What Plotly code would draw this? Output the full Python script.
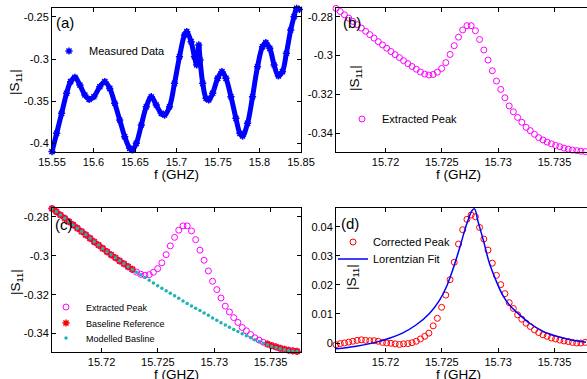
import plotly.graph_objects as go

# ---------------- data ----------------
# (a) measured data
a_f = [15.5500, 15.5556, 15.5616, 15.5676, 15.5724, 15.5776, 15.5836, 15.5896, 15.5948, 15.6004,
       15.6076, 15.6136, 15.6196, 15.6256, 15.6316, 15.6376, 15.6436, 15.6468, 15.6516, 15.6576,
       15.6636, 15.6696, 15.6756, 15.6816, 15.6856, 15.6916, 15.6976, 15.7036, 15.7096, 15.7124,
       15.7176, 15.7216, 15.7244, 15.7268, 15.7284, 15.7316, 15.7356, 15.7388, 15.7436, 15.7496,
       15.7548, 15.7596, 15.7656, 15.7716, 15.7764, 15.7796, 15.7856, 15.7916, 15.7976, 15.8036,
       15.8076, 15.8124, 15.8176, 15.8228, 15.8276, 15.8324, 15.8376, 15.8416, 15.8448, 15.8480]
a_s = [-0.4102, -0.3885, -0.3647, -0.3408, -0.3270, -0.3218, -0.3310, -0.3429, -0.3480, -0.3449,
       -0.3330, -0.3270, -0.3350, -0.3527, -0.3726, -0.3925, -0.4063, -0.4083, -0.4004, -0.3786,
       -0.3568, -0.3449, -0.3548, -0.3647, -0.3667, -0.3568, -0.3290, -0.2973, -0.2714, -0.2675,
       -0.2794, -0.2973, -0.3071, -0.2833, -0.3012, -0.3290, -0.3468, -0.3488, -0.3408, -0.3230,
       -0.3151, -0.3230, -0.3449, -0.3706, -0.3885, -0.3917, -0.3766, -0.3449, -0.3092, -0.2854,
       -0.2806, -0.2873, -0.3071, -0.3202, -0.3151, -0.2932, -0.2655, -0.2496, -0.2397, -0.2410]

# (b)/(c) extracted peak frequencies and values
p_f = [15.71560, 15.71598, 15.71635, 15.71673, 15.71710, 15.71748, 15.71785, 15.71823, 15.71860, 15.71898,
       15.71935, 15.71973, 15.72010, 15.72048, 15.72085, 15.72123, 15.72160, 15.72198, 15.72235, 15.72273,
       15.72310, 15.72348, 15.72385, 15.72423, 15.72460, 15.72498, 15.72535, 15.72573, 15.72610, 15.72648,
       15.72685, 15.72723, 15.72760, 15.72798, 15.72835, 15.72873, 15.72910, 15.72948, 15.72985, 15.73023,
       15.73060, 15.73098, 15.73135, 15.73173, 15.73210, 15.73248, 15.73285, 15.73323, 15.73360, 15.73398,
       15.73435, 15.73473, 15.73510, 15.73548, 15.73585, 15.73623, 15.73660, 15.73698, 15.73735, 15.73773]
p_s = [-0.2757, -0.2773, -0.2790, -0.2807, -0.2824, -0.2841, -0.2858, -0.2875, -0.2892, -0.2910,
       -0.2928, -0.2945, -0.2962, -0.2979, -0.2995, -0.3010, -0.3026, -0.3041, -0.3056, -0.3070,
       -0.3084, -0.3095, -0.3100, -0.3097, -0.3085, -0.3066, -0.3036, -0.2994, -0.2949, -0.2905,
       -0.2868, -0.2846, -0.2846, -0.2872, -0.2917, -0.2971, -0.3023, -0.3078, -0.3131, -0.3174,
       -0.3217, -0.3259, -0.3289, -0.3318, -0.3343, -0.3369, -0.3386, -0.3405, -0.3422, -0.3434,
       -0.3445, -0.3454, -0.3462, -0.3469, -0.3476, -0.3481, -0.3486, -0.3489, -0.3492, -0.3494]

# (c) baseline reference (left and right parts of the extracted peak)
ref_f = p_f[:20] + p_f[51:]
ref_s = p_s[:20] + p_s[51:]

# (c) modelled baseline
base_s = [-0.2757, -0.2773, -0.2790, -0.2807, -0.2824, -0.2841, -0.2858, -0.2875, -0.2892, -0.2910,
          -0.2928, -0.2945, -0.2962, -0.2979, -0.2995, -0.3010, -0.3026, -0.3041, -0.3056, -0.3070,
          -0.3084, -0.3098, -0.3112, -0.3126, -0.3140, -0.3154, -0.3167, -0.3180, -0.3193, -0.3206,
          -0.3219, -0.3232, -0.3245, -0.3258, -0.3270, -0.3282, -0.3294, -0.3306, -0.3320, -0.3332,
          -0.3344, -0.3356, -0.3368, -0.3379, -0.3390, -0.3401, -0.3412, -0.3422, -0.3432, -0.3441,
          -0.3450, -0.3458, -0.3465, -0.3472, -0.3478, -0.3483, -0.3487, -0.3490, -0.3492, -0.3494]

# (d) corrected peak
corr_s = [-0.0006, -0.0002, 0.0000, 0.0003, 0.0006, 0.0009, 0.0011, 0.0009, 0.0008, 0.0008,
          0.0006, 0.0002, 0.0000, -0.0001, -0.0003, -0.0005, -0.0003, -0.0002, 0.0001, 0.0006,
          0.0014, 0.0023, 0.0034, 0.0059, 0.0085, 0.0123, 0.0165, 0.0218, 0.0278, 0.0341,
          0.0390, 0.0426, 0.0441, 0.0435, 0.0398, 0.0358, 0.0320, 0.0275, 0.0233, 0.0201,
          0.0170, 0.0139, 0.0119, 0.0097, 0.0082, 0.0068, 0.0057, 0.0045, 0.0036, 0.0028,
          0.0023, 0.0017, 0.0014, 0.0010, 0.0007, 0.0005, 0.0002, 0.0000, 0.0000, 0.0002]

# (d) Lorentzian fit line
fit_f = [15.7156, 15.7174, 15.7192, 15.7204, 15.7215, 15.7227, 15.7239, 15.7248, 15.7254, 15.7260,
         15.7266, 15.7272, 15.7277, 15.7279, 15.7282, 15.7287, 15.7292, 15.7298, 15.7304, 15.7310,
         15.7319, 15.7328, 15.7340, 15.7352, 15.7367, 15.7378]
fit_s = [-0.0020, -0.0011, 0.0003, 0.0017, 0.0034, 0.0062, 0.0102, 0.0148, 0.0193, 0.0256,
         0.0330, 0.0409, 0.0457, 0.0462, 0.0420, 0.0352, 0.0278, 0.0216, 0.0165, 0.0131,
         0.0097, 0.0068, 0.0040, 0.0023, 0.0009, 0.0003]

a_ticks = [15.55, 15.6, 15.65, 15.7, 15.75, 15.8, 15.85]
a_tick_text = ["15.55", "15.6", "15.65", "15.7", "15.75", "15.8", "15.85"]
a_yticks = [-0.4, -0.35, -0.3, -0.25]
a_ytick_text = ["-0.4", "-0.35", "-0.3", "-0.25"]
p_ticks = [15.72, 15.725, 15.73, 15.735]
p_tick_text = ["15.72", "15.725", "15.73", "15.735"]
p_yticks = [-0.34, -0.32, -0.3, -0.28]
p_ytick_text = ["-0.34", "-0.32", "-0.3", "-0.28"]
d_yticks = [0, 0.01, 0.02, 0.03, 0.04]
d_ytick_text = ["0", "0.01", "0.02", "0.03", "0.04"]

# ---------------- figure ----------------
W, H = 587, 379
FONT = "Arial, Liberation Sans, Helvetica, sans-serif"
BLUE = "#0000ff"
MAG = "#ff00ff"
RED = "#ff0000"
CYAN = "#1fb3b3"

def px_x(p):
    return p / W

def px_y(p):
    return 1 - p / H

fig = go.Figure()

# (a)
fig.add_trace(go.Scatter(x=a_f, y=a_s, mode="lines", line=dict(color=BLUE, width=5, shape="spline"),
                         xaxis="x", yaxis="y", showlegend=False, hoverinfo="skip"))
fig.add_trace(go.Scatter(x=a_f, y=a_s, mode="markers", name="Measured Data",
                         marker=dict(symbol="asterisk-open", size=6, color=BLUE, line=dict(color=BLUE, width=1.5)),
                         xaxis="x", yaxis="y", legend="legend", cliponaxis=False))
# (b)
fig.add_trace(go.Scatter(x=p_f, y=p_s, mode="markers", name="Extracted Peak",
                         marker=dict(symbol="circle-open", size=6, color=MAG, line=dict(color=MAG, width=1)),
                         xaxis="x2", yaxis="y2", legend="legend2", cliponaxis=False))
# (c)
fig.add_trace(go.Scatter(x=p_f, y=p_s, mode="markers", name="Extracted Peak",
                         marker=dict(symbol="circle-open", size=6, color=MAG, line=dict(color=MAG, width=1)),
                         xaxis="x3", yaxis="y3", legend="legend3", cliponaxis=False))
fig.add_trace(go.Scatter(x=ref_f, y=ref_s, mode="markers", name="Baseline Reference",
                         marker=dict(symbol="asterisk-open", size=6, color=RED, line=dict(color=RED, width=1.5)),
                         xaxis="x3", yaxis="y3", legend="legend5", cliponaxis=False))
fig.add_trace(go.Scatter(x=p_f, y=base_s, mode="markers", name="Modelled Basline",
                         marker=dict(symbol="circle", size=3.5, color=CYAN),
                         xaxis="x3", yaxis="y3", legend="legend6", cliponaxis=False))
# (d)
fig.add_trace(go.Scatter(x=p_f, y=corr_s, mode="markers", name="Corrected Peak",
                         marker=dict(symbol="circle-open", size=6, color=RED, line=dict(color=RED, width=1)),
                         xaxis="x4", yaxis="y4", legend="legend4", cliponaxis=False))
fig.add_trace(go.Scatter(x=fit_f, y=fit_s, mode="lines", name="Lorentzian Fit",
                         line=dict(color=BLUE, width=1.5, shape="spline"),
                         xaxis="x4", yaxis="y4", legend="legend7"))

common_x = dict(showgrid=False, zeroline=False, showline=True, linecolor="black", linewidth=1,
                ticks="inside", ticklen=4, tickcolor="black", tickfont=dict(family=FONT, size=11, color="black"),
                automargin=False, mirror="ticks")
common_y = dict(common_x)

colL = [px_x(52), px_x(301)]
colR = [px_x(336), 1.0]
rowT = [px_y(152), px_y(8)]
rowB = [px_y(352), px_y(208)]

p_xrange = [15.7156, 15.73789]
p_yrange = [-0.3495, -0.2754]

def leg(x, y, size):
    return dict(x=px_x(x), y=px_y(y), xanchor="left", yanchor="middle", bgcolor="rgba(0,0,0,0)",
                borderwidth=0, font=dict(family=FONT, size=size, color="black"))

fig.update_layout(
    width=W, height=H, margin=dict(l=0, r=0, t=0, b=0),
    paper_bgcolor="white", plot_bgcolor="white", template="none",
    font=dict(family=FONT, size=11, color="black"),
    xaxis=dict(common_x, domain=colL, range=[15.55, 15.85], tickvals=a_ticks, ticktext=a_tick_text, anchor="y"),
    yaxis=dict(common_y, domain=rowT, range=[-0.4107, -0.2393], tickvals=a_yticks, ticktext=a_ytick_text, anchor="x"),
    xaxis2=dict(common_x, domain=colR, range=p_xrange, tickvals=p_ticks, ticktext=p_tick_text, anchor="y2"),
    yaxis2=dict(common_y, domain=rowT, range=[-0.3496, -0.2755], tickvals=p_yticks, ticktext=p_ytick_text,
                anchor="x2", mirror=False),
    xaxis3=dict(common_x, domain=colL, range=[15.7156, 15.7377], tickvals=p_ticks, ticktext=p_tick_text, anchor="y3"),
    yaxis3=dict(common_y, domain=rowB, range=p_yrange, tickvals=p_yticks, ticktext=p_ytick_text, anchor="x3"),
    xaxis4=dict(common_x, domain=colR, range=p_xrange, tickvals=p_ticks, ticktext=p_tick_text, anchor="y4"),
    yaxis4=dict(common_y, domain=rowB, range=[-0.0031, 0.0465], tickvals=d_yticks, ticktext=d_ytick_text,
                anchor="x4", mirror=False),
    legend=leg(49, 51, 11),
    legend2=leg(342, 119, 11),
    legend3=leg(46, 307, 9),
    legend5=leg(46, 323, 9),
    legend6=leg(46, 338, 9),
    legend4=leg(333, 242, 11),
    legend7=leg(333, 259, 11),
)

annos = []
def ann(text, x, y, size, angle=0):
    annos.append(dict(text=text, x=px_x(x), y=px_y(y), xref="paper", yref="paper", showarrow=False,
                      xanchor="center", yanchor="middle", textangle=angle,
                      font=dict(family=FONT, size=size, color="black")))

ann("f (GHZ)", 176.5, 174, 13.5)
ann("f (GHZ)", 458, 174, 13.5)
ann("f (GHZ)", 176.5, 374, 13.5)
ann("f (GHZ)", 458, 374, 13.5)
ann("|S<sub>11</sub>|", 16, 82, 13.5, -90)
ann("|S<sub>11</sub>|", 355, 78, 13.5, -90)
ann("|S<sub>11</sub>|", 16, 282, 13.5, -90)
ann("|S<sub>11</sub>|", 352, 277, 13.5, -90)
ann("(a)", 65, 23, 15)
ann("(b)", 352, 23, 15)
ann("(c)", 64, 224, 15)
ann("(d)", 350, 223, 15)
fig.update_layout(annotations=annos)

fig.write_html("out.html",
               config={"displayModeBar": False},
               post_script="document.body.style.margin='0px';document.body.style.padding='0px';"
                           "document.body.style.overflow='hidden';")
